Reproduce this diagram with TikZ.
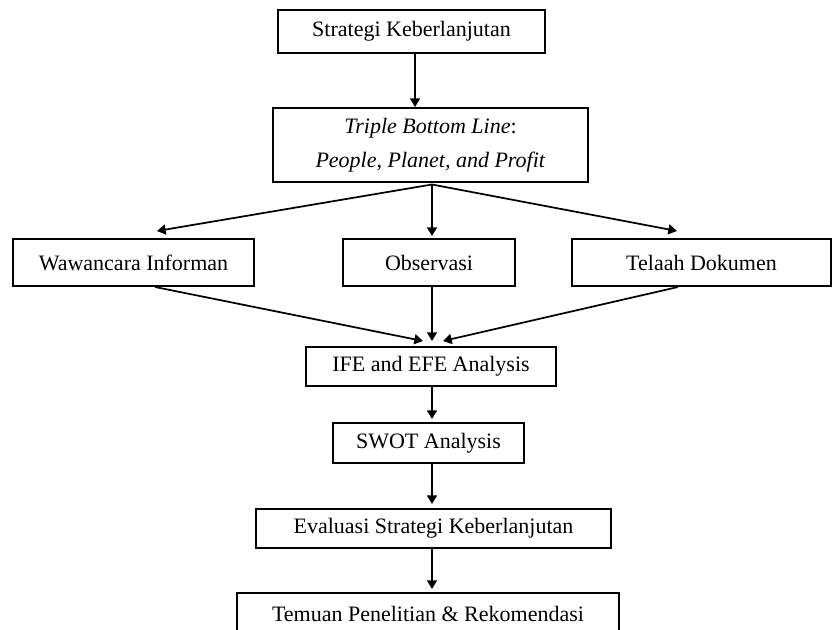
\documentclass[tikz,border=0pt]{standalone}
\usepackage{fontspec}
\setmainfont{Liberation Serif}
\usetikzlibrary{arrows.meta,calc}
\begin{document}
\begin{tikzpicture}[x=0.75pt,y=-0.75pt,
  box/.style={draw,line width=1.5pt,inner sep=0pt,align=center,
    font=\fontsize{16.5}{25.5}\selectfont},
  arr/.style={line width=1.3pt,-{Triangle[width=7.5pt,length=6.5pt]}}]
\useasboundingbox (0,0) rectangle (833,630);
\fill[white] (0,0) rectangle (833,630);
\clip (0,0) rectangle (833,630);
\node[box,minimum width=200.25pt,minimum height=32.25pt] (s) at (411.5,31.5) {Strategi Keberlanjutan};
\node[box,minimum width=236.25pt,minimum height=55.5pt] (tbl) at (430.5,145) {\textit{Triple Bottom Line}:\\\textit{People, Planet, and Profit}};
\node[box,minimum width=180.75pt,minimum height=35.25pt] (wi) at (133.5,262.5) {Wawancara Informan};
\node[box,minimum width=129pt,minimum height=35.25pt] (ob) at (429,262.5) {Observasi};
\node[box,minimum width=194.25pt,minimum height=35.25pt] (te) at (701.5,262.5) {Telaah Dokumen};
\node[box,minimum width=187.5pt,minimum height=29.25pt] (ife) at (431,366.5) {IFE and EFE Analysis};
\node[box,minimum width=143.25pt,minimum height=30pt] (swot) at (428.5,443) {SWOT Analysis};
\node[box,minimum width=266.25pt,minimum height=29.25pt] (ev) at (433.5,528.5) {Evaluasi Strategi Keberlanjutan};
\node[box,minimum width=286.5pt,minimum height=31.5pt] (tr) at (428,614) {Temuan Penelitian \& Rekomendasi};

% start points and tips
\coordinate (a0) at ($(s.south)+(3.5,0)$);
\coordinate (a1) at (a0 |- tbl.north);
\draw[arr] (a0) -- (a1);
\coordinate (br) at ($(tbl.south)+(1.5,1.5)$);
\draw[arr] (br) -- ($(wi.north)+(23.5,-7)$);
\coordinate (obt) at (br |- ob.north);
\draw[arr] (br) -- ($(obt)+(0,-2)$);
\draw[arr] (br) -- ($(te.north)+(-24.5,-7)$);
\draw[arr] ($(wi.south)+(21.5,0)$) -- ($(ife.north)+(-8,-5)$);
\coordinate (ob0) at ($(ob.south)+(3,0)$);
\coordinate (ob1) at (ob0 |- ife.north);
\draw[arr] (ob0) -- ($(ob1)+(0,-5)$);
\draw[arr] ($(te.south)+(-23.5,0)$) -- ($(ife.north)+(12,-5)$);
\coordinate (i0) at ($(ife.south)+(1,0)$);
\coordinate (i1) at (i0 |- swot.north);
\draw[arr] (i0) -- ($(i1)+(0,-3)$);
\coordinate (w0) at ($(swot.south)+(3.5,0)$);
\coordinate (w1) at (w0 |- ev.north);
\draw[arr] (w0) -- ($(w1)+(0,-4)$);
\coordinate (e0) at ($(ev.south)+(-1.5,0)$);
\coordinate (e1) at (e0 |- tr.north);
\draw[arr] (e0) -- ($(e1)+(0,-3)$);
\end{tikzpicture}
\end{document}
